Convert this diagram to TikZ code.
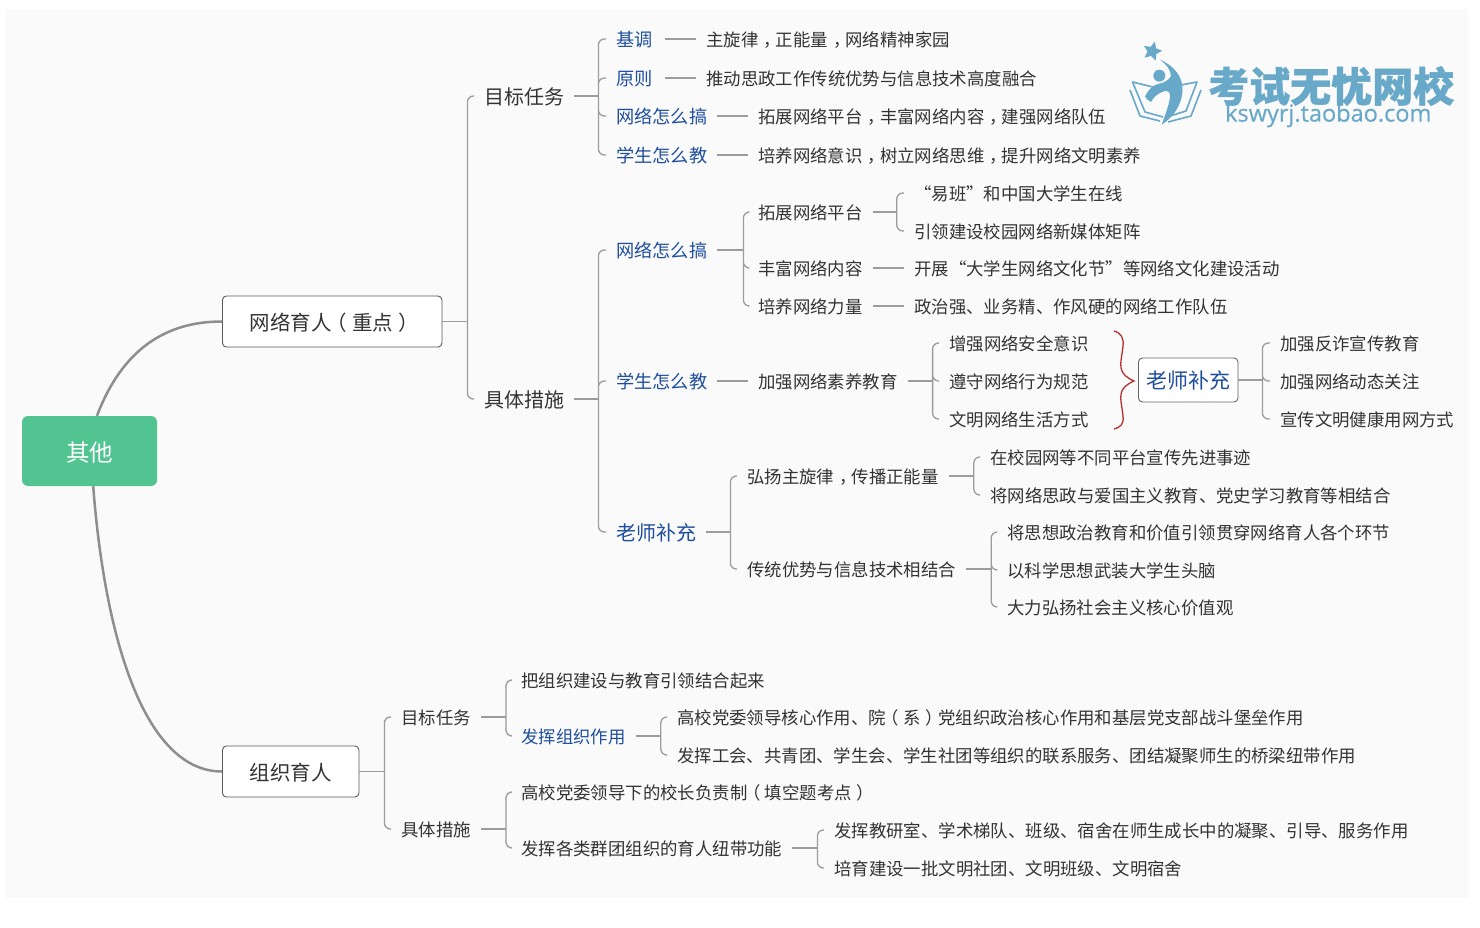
\documentclass[tikz,border=0pt]{standalone}
\usepackage{fontspec}
\setmainfont{Noto Sans CJK SC}
\newfontfamily\logolatin[FakeBold=0.4]{Open Sans}
\newfontfamily\logocjk[BoldFeatures={FakeBold=1}]{Noto Sans CJK SC}
\usetikzlibrary{positioning,shapes.geometric}
\definecolor{panelbg}{HTML}{FAFAFA}
\definecolor{rootgreen}{HTML}{52C491}
\definecolor{txtgray}{HTML}{333333}
\definecolor{leadblue}{HTML}{1F4E9E}
\definecolor{linegray}{HTML}{9C9C9C}
\definecolor{maingray}{HTML}{8E8E8E}
\definecolor{bracered}{HTML}{B5312F}
\definecolor{logoblue}{HTML}{68A9C9}
% punctuation sits mid-box in the picture
\newcommand{\zdou}{\hspace{0.3em}，\hspace{-0.3em}}
\newcommand{\zkuo}{\hspace{-0.25em}（\hspace{0.25em}}
\newcommand{\ykuo}{\hspace{0.25em}）\hspace{-0.25em}}
\tikzset{
  txt/.style={anchor=west, inner xsep=10pt, inner ysep=1pt, text height=16pt, text depth=1pt, text=txtgray, font=\fontsize{17.4}{20}\selectfont},
  lead/.style={txt, text=leadblue, font=\fontsize{18.2}{20}\selectfont},
  bigtxt/.style={txt, text height=18.5pt, text depth=1.5pt, font=\fontsize{20}{24}\selectfont},
  bigblue/.style={bigtxt, text=leadblue},
  topicbox/.style={draw=black!65, fill=white, rounded corners=4pt, line width=0.9pt, anchor=west, inner sep=0pt, text height=18.5pt, text depth=1.5pt, text=txtgray, font=\fontsize{20.5}{24}\selectfont},
  link/.style={linegray, line width=1.3pt},
  trunk/.style={link, rounded corners=6pt},
  mainlink/.style={maingray, line width=2.5pt},
  logoink/.style={logoblue, line width=1.6pt, line join=round}
}
\begin{document}
\begin{tikzpicture}[x=1pt,y=-1pt]
\useasboundingbox (0,0) rectangle (1480,928);
\fill[panelbg] (5,9) rectangle (1468,898);
% root and the two topics
\node[fill=rootgreen, rounded corners=6pt, minimum width=135pt, minimum height=70pt, text height=22pt, text depth=1pt, text=white, font=\fontsize{23.5}{28}\selectfont] (root) at (89.5,451) {其他};
\node[topicbox, minimum width=219.5pt, minimum height=51pt] (wl) at (222,321.5) {\hspace{4pt}网络育人\zkuo 重点\ykuo};
\node[topicbox, minimum width=136.5pt, minimum height=51pt] (zz) at (222,771.5) {组织育人};
\draw[mainlink] (root.78) .. controls (122,350) and (165,321.5) .. (wl.west);
\draw[mainlink] (root.-84) .. controls (105,640) and (145,771.5) .. (zz.west);
% upper branch
\node[bigtxt] (mb) at (474,96) {目标任务};
\node[bigtxt] (cs) at (474,399) {具体措施};
\draw[link] (wl.east) -- ++(25,0) coordinate (wlt);
\draw[trunk] (wlt) |- (mb.west) (wlt) |- (cs.west);
\node[lead] (jd) at (606,39) {基调};
\node[lead] (yz) at (606,78) {原则};
\node[lead] (wg) at (606,116) {网络怎么搞};
\node[lead] (xj) at (606,155) {学生怎么教};
\draw[link] (mb.east) -- ++(24,0) coordinate (mbt);
\draw[trunk] (mbt) |- (jd.west) (mbt) |- (yz.west) (mbt) |- (wg.west) (mbt) |- (xj.west);
\node[txt] (jda) at (696,39) {主旋律\zdou 正能量\zdou 网络精神家园};
\node[txt] (yza) at (696,78) {推动思政工作传统优势与信息技术高度融合};
\node[txt] (wga) at (748,116) {拓展网络平台\zdou 丰富网络内容\zdou 建强网络队伍};
\node[txt] (xja) at (748,155) {培养网络意识\zdou 树立网络思维\zdou 提升网络文明素养};
\draw[link, shorten <=2pt] (jd.east) -- (jda.west);
\draw[link, shorten <=2pt] (yz.east) -- (yza.west);
\draw[link] (wg.east) -- (wga.west);
\draw[link] (xj.east) -- (xja.west);
\node[lead] (cw) at (606,250) {网络怎么搞};
\node[lead] (cx) at (606,381) {学生怎么教};
\node[bigblue] (cl) at (606,532) {老师补充};
\draw[link] (cs.east) -- ++(24,0) coordinate (cst);
\draw[trunk] (cst) |- (cw.west) (cst) |- (cx.west) (cst) |- (cl.west);
% how the network is run
\node[txt] (tz) at (748,212) {拓展网络平台};
\node[txt] (ff) at (748,268) {丰富网络内容};
\node[txt] (py) at (748,306) {培养网络力量};
\draw[link] (cw.east) -- ++(26,0) coordinate (cwt);
\draw[trunk] (cwt) |- (tz.west) (cwt) |- (ff.west) (cwt) |- (py.west);
\node[txt] (yb) at (904,193) {“易班”和中国大学生在线};
\node[txt] (yl) at (904,231) {引领建设校园网络新媒体矩阵};
\node[txt] (kz) at (904,268) {开展“大学生网络文化节”等网络文化建设活动};
\node[txt] (zq) at (904,306) {政治强、业务精、作风硬的网络工作队伍};
\draw[link] (tz.east) -- ++(24,0) coordinate (tzt);
\draw[trunk] (tzt) |- (yb.west) (tzt) |- (yl.west);
\draw[link] (ff.east) -- (kz.west);
\draw[link] (py.east) -- (zq.west);
% how students are taught
\node[txt] (sy) at (748,381) {加强网络素养教育};
\draw[link] (cx.east) -- (sy.west);
\node[txt] (aq) at (939,343) {增强网络安全意识};
\node[txt] (gf) at (939,381) {遵守网络行为规范};
\node[txt] (sh) at (939,419) {文明网络生活方式};
\draw[link] (sy.east) -- ++(25,0) coordinate (syt);
\draw[trunk] (syt) |- (aq.west) (syt) |- (gf.west) (syt) |- (sh.west);
\draw[bracered, line width=1.3pt] (1114,331) .. controls (1121,333) and (1124,338) .. (1123,346)
  .. controls (1122,356) and (1120,362) .. (1121,368) .. controls (1122,374) and (1127,378) .. (1134,381)
  .. controls (1127,384) and (1122,388) .. (1121,394) .. controls (1120,400) and (1122,406) .. (1123,416)
  .. controls (1124,424) and (1121,427) .. (1114,429);
\node[topicbox, draw=black!60, minimum width=99.5pt, minimum height=44pt, text=leadblue, font=\fontsize{21}{24}\selectfont] (lsb) at (1138,380) {老师补充};
\node[txt] (fz) at (1270,343) {加强反诈宣传教育};
\node[txt] (dt) at (1270,381) {加强网络动态关注};
\node[txt] (jk) at (1270,419) {宣传文明健康用网方式};
\draw[link] (lsb.east) -- ++(24,0) coordinate (lst);
\draw[trunk] (lst) |- (fz.west) (lst) |- (dt.west) (lst) |- (jk.west);
% teacher notes
\node[txt] (hy) at (737,476) {弘扬主旋律\zdou 传播正能量};
\node[txt] (ct) at (737,569) {传统优势与信息技术相结合};
\draw[link] (cl.east) -- ++(24,0) coordinate (clt);
\draw[trunk] (clt) |- (hy.west) (clt) |- (ct.west);
\node[txt] (xy) at (980,457) {在校园网等不同平台宣传先进事迹};
\node[txt] (ag) at (980,495) {将网络思政与爱国主义教育、党史学习教育等相结合};
\draw[link] (hy.east) -- ++(25,0) coordinate (hyt);
\draw[trunk] (hyt) |- (xy.west) (hyt) |- (ag.west);
\node[txt] (gc) at (997,532) {将思想政治教育和价值引领贯穿网络育人各个环节};
\node[txt] (wz) at (997,570) {以科学思想武装大学生头脑};
\node[txt] (hx) at (997,607) {大力弘扬社会主义核心价值观};
\draw[link] (ct.east) -- ++(25,0) coordinate (ctt);
\draw[trunk] (ctt) |- (gc.west) (ctt) |- (wz.west) (ctt) |- (hx.west);
% lower branch
\node[txt] (zm) at (391,717) {目标任务};
\node[txt] (zc) at (391,829) {具体措施};
\draw[link] (zz.east) -- ++(25,0) coordinate (zzt);
\draw[trunk] (zzt) |- (zm.west) (zzt) |- (zc.west);
\node[txt] (jh) at (511,680) {把组织建设与教育引领结合起来};
\node[txt, text=leadblue] (fh) at (511,736) {发挥组织作用};
\draw[link] (zm.east) -- ++(25,0) coordinate (zmt);
\draw[trunk] (zmt) |- (jh.west) (zmt) |- (fh.west);
\node[txt] (hxa) at (667,717) {高校党委领导核心作用、院\zkuo 系\ykuo 党组织政治核心作用和基层党支部战斗堡垒作用};
\node[txt] (hxb) at (667,755) {发挥工会、共青团、学生会、学生社团等组织的联系服务、团结凝聚师生的桥梁纽带作用};
\draw[link] (fh.east) -- ++(25,0) coordinate (fht);
\draw[trunk] (fht) |- (hxa.west) (fht) |- (hxb.west);
\node[txt] (xz) at (511,792) {高校党委领导下的校长负责制\zkuo 填空题考点\ykuo};
\node[txt] (qt) at (511,848) {发挥各类群团组织的育人纽带功能};
\draw[link] (zc.east) -- ++(25,0) coordinate (zct);
\draw[trunk] (zct) |- (xz.west) (zct) |- (qt.west);
\node[txt] (jy) at (824,830) {发挥教研室、学术梯队、班级、宿舍在师生成长中的凝聚、引导、服务作用};
\node[txt] (wm) at (824,868) {培育建设一批文明社团、文明班级、文明宿舍};
\draw[link] (qt.east) -- ++(25,0) coordinate (qtt);
\draw[trunk] (qtt) |- (jy.west) (qtt) |- (wm.west);
% logo
\node[star, star points=5, star point ratio=2.1, fill=logoblue, minimum size=20pt, inner sep=0pt, rotate=-15] (lgstar) at (1152.3,51.3) {};
\fill[logoblue] (1159.3,75.7) circle (6);
\fill[logoblue] (1160,59.7) .. controls (1175,66) and (1183,78) .. (1182.5,90)
  .. controls (1182,106) and (1172,118) .. (1161.7,124.7)
  .. controls (1165,115) and (1170,103) .. (1170,95) .. controls (1170,91) and (1166,90) .. (1162,92)
  .. controls (1157,94) and (1153,98) .. (1151,102) .. controls (1148,100) and (1146,99) .. (1145,96.5)
  .. controls (1148,90) and (1153,85) .. (1158,84) .. controls (1164,83) and (1169,80) .. (1171,76)
  .. controls (1171,70) and (1166,64) .. (1160,59.7) -- cycle;
\draw[logoink] (1153,87) -- (1132.5,82) -- (1145,112) -- (1163,117);
\draw[logoink] (1130,90) -- (1140,116) -- (1160,121);
\draw[logoink] (1181,85) -- (1197,82) -- (1186,111) -- (1170,116);
\draw[logoink] (1201,90) -- (1191,116) -- (1168,122);
\node[anchor=west, inner sep=0pt, text=logoblue, font=\logocjk\fontsize{41}{44}\bfseries] (lgname) at (1208,86) {考试无忧网校};
\node[anchor=west, inner sep=0pt, text=logoblue, font=\logolatin\fontsize{23.5}{26}\selectfont] (lgurl) at (1225,115.5) {kswyrj.taobao.com};
\end{tikzpicture}
\end{document}
